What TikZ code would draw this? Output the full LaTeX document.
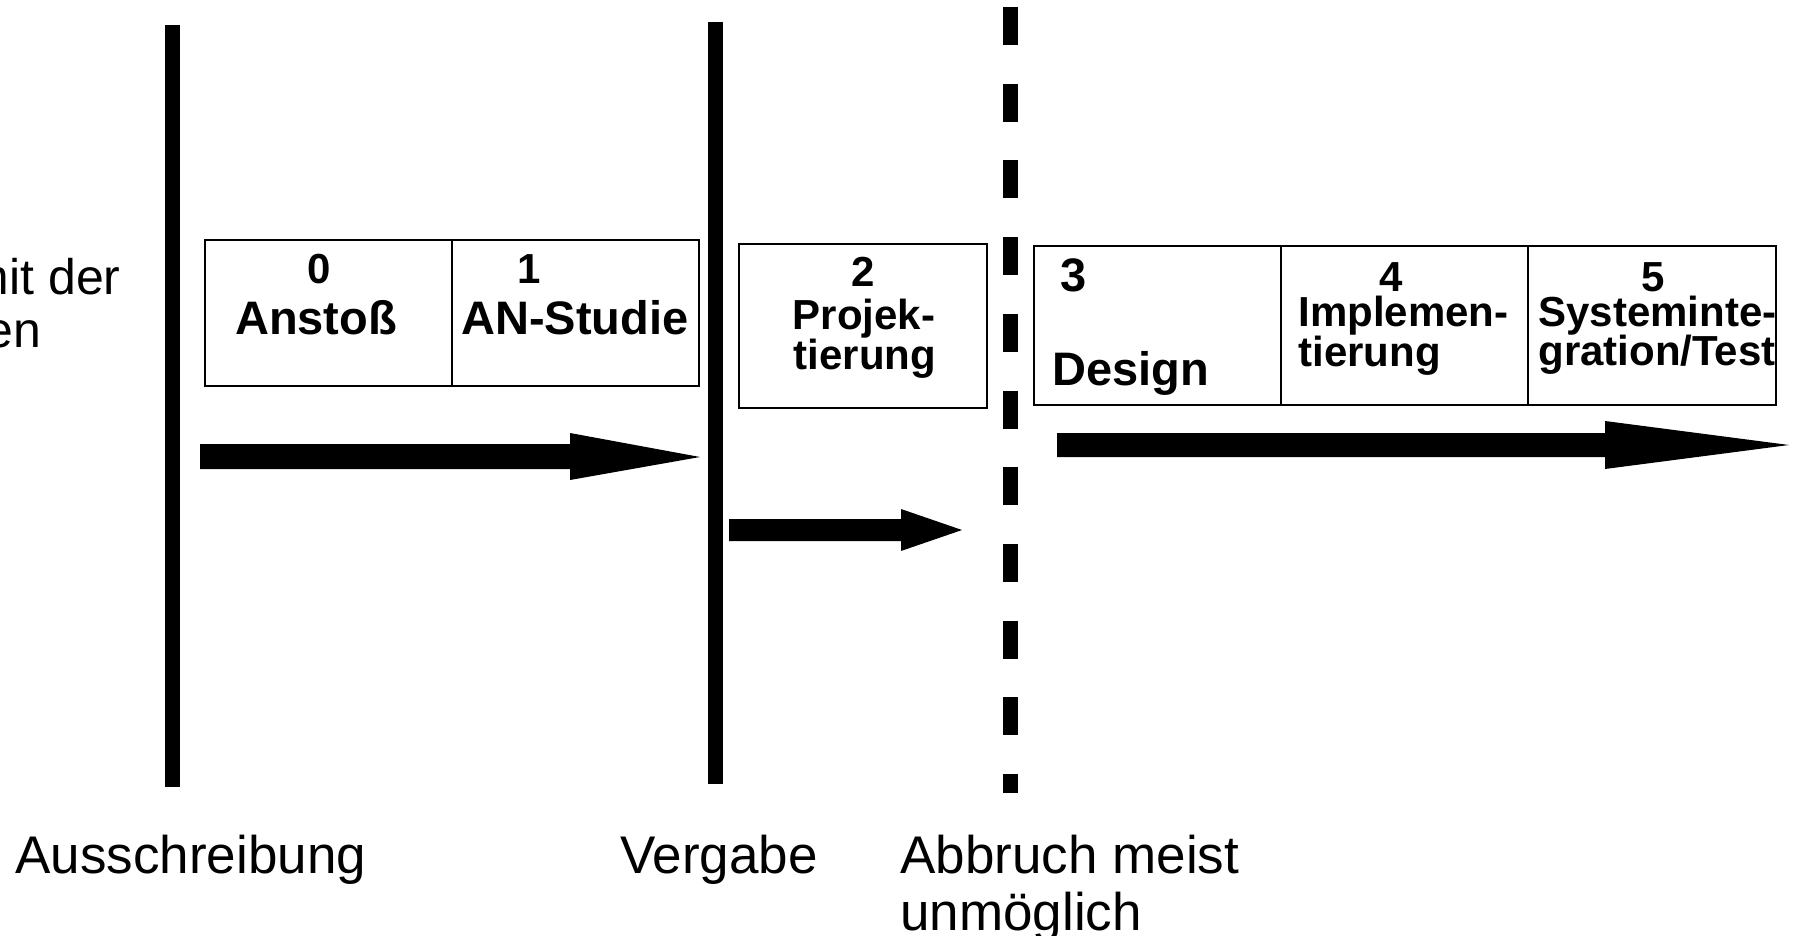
\documentclass[tikz,border=0pt]{standalone}
\usepackage{fontspec}
\setmainfont{Liberation Sans}
\begin{document}
\begin{tikzpicture}[x=0.5pt,y=-0.5pt,
  milestone/.style={line width=7.5pt},
  cutoff/.style={line width=7.5pt, dash pattern=on 19pt off 19.35pt},
  phase/.style={draw, line width=1pt, inner sep=0pt, outer sep=0pt, anchor=north west},
  blockarrow/.style={fill=black},
  lbl/.style={inner sep=0pt, font=\fontsize{26.5pt}{28.5pt}\selectfont, align=left},
  side/.style={inner sep=0pt, font=\fontsize{25pt}{26pt}\selectfont},
  big/.style={inner sep=0pt, font=\bfseries\fontsize{23.5pt}{24pt}\selectfont},
  mid/.style={inner sep=0pt, font=\bfseries\fontsize{21pt}{21pt}\selectfont},
  num/.style={inner sep=0pt, font=\bfseries\fontsize{21pt}{21pt}\selectfont},
]
\useasboundingbox (0,0) rectangle (1793,936);

% milestones
\coordinate (m1top) at (172.5,25);  \coordinate (m1bot) at (172.5,787);
\coordinate (m2top) at (715,22);    \coordinate (m2bot) at (715,784);
\coordinate (m3top) at (1010.5,7);  \coordinate (m3bot) at (1010.5,793);
\draw[milestone] (m1top) -- (m1bot);
\draw[milestone] (m2top) -- (m2bot);
\draw[cutoff] (m3top) -- (m3bot);

% phase boxes
\node[phase, minimum width=123.5pt, minimum height=73pt] (b0) at (205,240) {};
\node[phase, minimum width=123.5pt, minimum height=73pt] (b1) at (452,240) {};
\node[phase, minimum width=124pt, minimum height=82pt] (b2) at (739,244) {};
\node[phase, minimum width=123.5pt, minimum height=79.5pt] (b3) at (1034,246) {};
\node[phase, minimum width=123.5pt, minimum height=79.5pt] (b4) at (1281,246) {};
\node[phase, minimum width=124pt, minimum height=79.5pt] (b5) at (1528,246) {};

% phase labels
\node[num, anchor=base] (n0) at (319,284) {0};
\node[big, anchor=base] (t0) at (316,335) {Anstoß};
\node[num, anchor=base] (n1) at (529,284) {1};
\node[big, anchor=base] (t1) at (575,335) {AN-Studie};
\node[num, anchor=base] (n2) at (863,286) {2};
\node[mid, anchor=base] (t2a) at (864,329) {Projek-};
\node[mid, anchor=base] (t2b) at (865,369) {tierung};
\node[big, anchor=base west] (n3) at (1060,292) {3};
\node[big, anchor=base west] (t3) at (1052,385) {Design};
\node[num, anchor=base] (n4) at (1391,292) {4};
\node[mid, anchor=base west] (t4a) at (1298,327) {Implemen-};
\node[mid, anchor=base west] (t4b) at (1298,366) {tierung};
\node[num, anchor=base] (n5) at (1653,292) {5};
\node[mid, anchor=base west] (t5a) at (1538,327) {Systeminte-};
\node[mid, anchor=base west] (t5b) at (1538,365) {gration/Test};

% progress arrows
\fill[blockarrow] (200,444) -- (570,444) -- (570,433) -- (700,457) -- (570,480) -- (570,469) -- (200,469) -- cycle;
\fill[blockarrow] (729,519) -- (901,519) -- (901,509) -- (962,530) -- (901,551) -- (901,541) -- (729,541) -- cycle;
\fill[blockarrow] (1057,433) -- (1605,433) -- (1605,421) -- (1789,445) -- (1605,469) -- (1605,457) -- (1057,457) -- cycle;

% milestone captions
\node[lbl, anchor=base west] (c1) at (15,873) {Ausschreibung};
\node[lbl, anchor=base west] (c2) at (620,873) {Vergabe};
\node[lbl, anchor=base west] (c3) at (900,873) {Abbruch meist};
\node[lbl, anchor=base west] (c4) at (900,930) {unmöglich};

% left margin text
\node[side, anchor=base east] (s1) at (121,294) {mit der};
\node[side, anchor=base east] (s2) at (42,347) {en};
\end{tikzpicture}
\end{document}
